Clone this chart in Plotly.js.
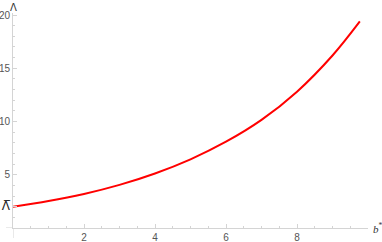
<!DOCTYPE html>
<html><head><meta charset="utf-8">
<script src="https://cdn.plot.ly/plotly-3.0.1.min.js"></script>
<style>body{margin:0;background:#fff}</style>
</head><body><div id="chart" style="width:382px;height:242px"></div>
<script>
const bStar = [0, 1, 2, 3, 4, 5, 6, 7, 8, 9, 9.77];
const lambdaVals = [2.0, 2.53, 3.2, 4.05, 5.12, 6.45, 8.1, 10.15, 12.8, 16.2, 19.4];
const xTickVals = [2, 4, 6, 8];
const xTickText = ['2', '4', '6', '8'];
const yTickVals = [2, 5, 10, 15, 20];
const yTickText = ['<span style="font-family:DejaVu Sans;font-size:12px;color:#222">Λ\u0305</span>', '5', '10', '15', '20'];

const axisCol = '#d4d4d4';
const txtCol = '#555555';
const fnt = {family: 'Liberation Sans, Arial, sans-serif', size: 10, color: txtCol};

const trace = {
  x: bStar, y: lambdaVals, type: 'scatter', mode: 'lines',
  line: {color: '#ff0000', width: 2, shape: 'spline'},
  hoverinfo: 'skip'
};

const layout = {
  width: 382, height: 242,
  margin: {l: 13, r: 14, t: 13, b: 14},
  paper_bgcolor: '#fff', plot_bgcolor: '#fff',
  showlegend: false,
  font: fnt,
  xaxis: {
    range: [0, 10], showgrid: false, zeroline: false,
    showline: true, linecolor: axisCol, linewidth: 1,
    tickmode: 'array', tickvals: xTickVals, ticktext: xTickText,
    ticks: 'inside', ticklen: 4, tickcolor: axisCol, tickfont: fnt,
    minor: {dtick: 0.5, tick0: 0, ticks: 'inside', ticklen: 2, tickcolor: axisCol, showgrid: false}
  },
  yaxis: {
    range: [0, 20.19], showgrid: false, zeroline: false,
    showline: true, linecolor: axisCol, linewidth: 1,
    tickmode: 'array', tickvals: yTickVals, ticktext: yTickText,
    ticks: 'inside', ticklen: 4, tickcolor: axisCol, tickfont: fnt,
    minor: {dtick: 1, tick0: 0, ticks: 'inside', ticklen: 2, tickcolor: axisCol, showgrid: false}
  },
  shapes: [
    {type: 'line', xref: 'paper', yref: 'y', x0: -7/355, x1: 0, y0: 0, y1: 0, line: {color: axisCol, width: 1}},
    {type: 'line', xref: 'x', yref: 'paper', x0: 0, x1: 0, y0: -10/215, y1: 0, line: {color: axisCol, width: 1}}
  ],
  annotations: [
    {text: 'Λ', xref: 'paper', yref: 'paper', x: 0, y: 1, xanchor: 'center', yanchor: 'bottom',
     xshift: 0, yshift: -2, showarrow: false, font: {family: 'DejaVu Sans, sans-serif', size: 10, color: '#333'}},
    {text: '<i>b</i><sup>*</sup>', xref: 'paper', yref: 'paper', x: 1, y: 0, xanchor: 'left', yanchor: 'middle',
     xshift: 3, yshift: 0, showarrow: false, font: {family: 'Liberation Serif, Times New Roman, serif', size: 11, color: '#333'}}
  ]
};

Plotly.newPlot('chart', [trace], layout, {staticPlot: true, displayModeBar: false});
</script>
</body></html>
